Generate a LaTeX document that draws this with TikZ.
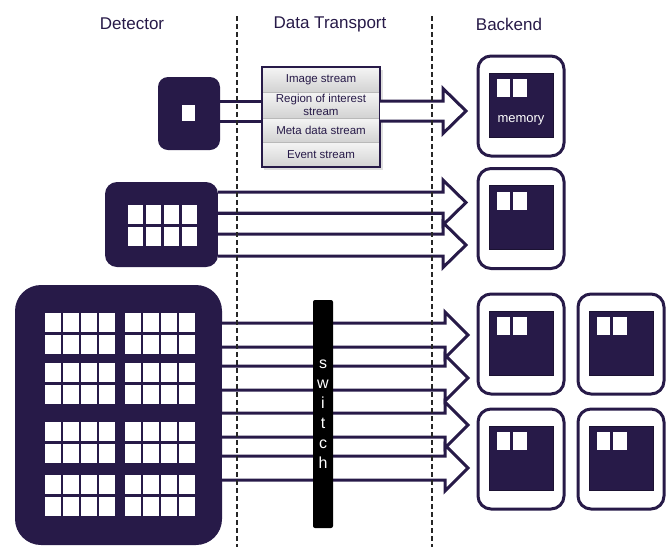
\documentclass[tikz,border=0pt]{standalone}
\usepackage{fontspec}
\setmainfont{Liberation Sans}
\usetikzlibrary{positioning}
\definecolor{dpurple}{RGB}{39,26,72}

\begin{document}
\begin{tikzpicture}[x=1pt, y=-1pt,
    heading/.style={font=\fontsize{17}{20}\selectfont, text=dpurple},
    detbox/.style={fill=dpurple, rounded corners=#1, inner sep=0pt, outer sep=0pt},
    blockarrow/.style={draw=dpurple, line width=3pt, fill=white, line join=miter},
    divider/.style={line width=1.1pt, black!85, dash pattern=on 5pt off 3pt},
    streamrow/.style={draw=gray!55, top color=gray!8, bottom color=gray!35, minimum width=118pt,
        inner sep=0pt, outer sep=0pt, align=center, font=\fontsize{11.5}{13}\selectfont, text=dpurple},
    backbox/.style={draw=dpurple, line width=3pt, fill=white, rounded corners=13pt,
        minimum width=86pt, minimum height=100pt, inner sep=0pt, outer sep=0pt},
    membox/.style={fill=dpurple, draw=dpurple!70!black, line width=1pt,
        minimum width=64pt, minimum height=64pt, inner sep=0pt}
]
    \useasboundingbox (0,0) rectangle (672,547);

    % Column titles
    \node[heading] (hdet) at (132,24) {Detector};
    \node[heading] (htrans) at (330,24) {Data Transport};
    \node[heading] (hback) at (509,24) {Backend};

    % Detectors
    \node[detbox=10pt, minimum width=62pt, minimum height=73pt] (det1) at (189,113.5) {};
    \fill[white] (182,105) rectangle (195,121);

    \node[detbox=12pt, minimum width=113pt, minimum height=85pt] (det2) at (161.5,224.5) {};
    \foreach \i in {0,...,3}
        \foreach \j in {0,1}
            \fill[white] (128+18*\i,205+22*\j) rectangle ++(15,19);

    \node[detbox=26pt, minimum width=207pt, minimum height=260pt] (det3) at (118.5,415) {};
    \foreach \gy in {313,363,422,475}
        \foreach \j in {0,1}
            \foreach \i in {0,...,7}
                \fill[white] ({45+18*\i+8*int(\i/4)},\gy+22*\j) rectangle ++(16,19);

    % Stream box
    \fill[gray!25] (264,70) rectangle (383,170);
    \node[streamrow, minimum height=25pt] (imgs) at (321,79.5) {Image stream};
    \node[streamrow, minimum height=26pt, below=0pt of imgs] (rois) {Region of interest\\stream};
    \node[streamrow, minimum height=24pt, below=0pt of rois] (metas) {Meta data stream};
    \node[streamrow, minimum height=25pt, below=0pt of metas] (evts) {Event stream};
    \draw[line width=2.5pt, dpurple] (imgs.north west) rectangle (evts.south east);

    % Arrow of detector 1
    \draw[dpurple, line width=3pt] (det1.east |- 0,101) -- (imgs.west |- 0,101);
    \draw[dpurple, line width=3pt] (det1.east |- 0,121) -- (imgs.west |- 0,121);
    \draw[blockarrow] (imgs.east |- 0,101) -- (443,101) -- (443,88.5) -- (466,111)
        -- (443,133.5) -- (443,121) -- (imgs.east |- 0,121);

    % Arrows of detector 2
    \draw[blockarrow] (det2.east |- 0,213) -- (443,213) -- (443,234) -- (det2.east |- 0,234);
    \draw[blockarrow] (det2.east |- 0,192) -- (443,192) -- (443,180) -- (466,202.5)
        -- (443,225) -- (443,213) -- (det2.east |- 0,213);
    \draw[blockarrow] (det2.east |- 0,234) -- (443,234) -- (443,222.5) -- (466,245)
        -- (443,267.5) -- (443,256) -- (det2.east |- 0,256);

    % Arrows of detector 3
    \foreach \c in {335,378,425,468}
        \draw[blockarrow] (det3.east |- 0,\c-12) -- (445,\c-12) -- (445,\c-23) -- (468,\c)
            -- (445,\c+23) -- (445,\c+12) -- (det3.east |- 0,\c+12);

    % Column dividers
    \draw[divider] (237,16) -- (237,547);
    \draw[divider] (432,16) -- (432,547);

    % Switch
    \node[fill=black, rounded corners=2pt, minimum width=20pt, minimum height=228pt, inner sep=0pt,
        text=white, align=center, font=\fontsize{16}{20}\selectfont] (switch) at (323,414)
        {s\\w\\i\\t\\c\\h};

    % Backend nodes
    \foreach \name/\bx/\by in {mem1/521/106, mem2/521/218.5, mem3/521/344,
                               mem4/621/344, mem5/521/459, mem6/621/459} {
        \node[backbox] (\name) at (\bx,\by) {};
        \node[membox] (\name-in) at (\bx,\by-1) {};
        \fill[white] (\bx-24,\by-27) rectangle ++(13,18);
        \fill[white] (\bx-8,\by-27) rectangle ++(14,18);
    }
    \node[text=white, font=\fontsize{13}{15}\selectfont] (memlabel) at (521,120) {memory};
\end{tikzpicture}
\end{document}
